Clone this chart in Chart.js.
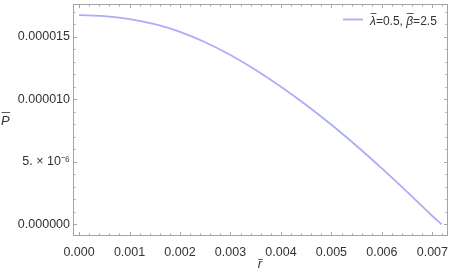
<!DOCTYPE html>
<html>
<head>
<meta charset="utf-8">
<script src="https://cdn.jsdelivr.net/npm/chart.js@4.4.1/dist/chart.umd.min.js"></script>
<style>
  html, body { margin: 0; padding: 0; background: #fff; }
  #wrap { width: 454px; height: 277px; }
</style>
</head>
<body>
<div id="wrap"><canvas id="chart" width="454" height="277"></canvas></div>
<script>
// r-bar values (x) and P-bar values (y)
const rBar = [0, 0.0005, 0.001, 0.0015, 0.002, 0.0025, 0.003, 0.0035, 0.004,
              0.0045, 0.005, 0.0055, 0.006, 0.0065, 0.007, 0.00718];
const pBar = [16.75e-6, 16.67e-6, 16.43e-6, 16.02e-6, 15.41e-6, 14.58e-6, 13.55e-6, 12.35e-6, 11.01e-6,
              9.55e-6, 7.97e-6, 6.27e-6, 4.47e-6, 2.59e-6, 0.66e-6, 0];

const xTicks = [0, 0.001, 0.002, 0.003, 0.004, 0.005, 0.006, 0.007];
const yTicks = [0, 5e-6, 10e-6, 15e-6];
const yTickLabels = ['0.000000', '5. \u00d7 10\u207b\u2076', '0.000010', '0.000015'];
const legendLabel = ['\u03bb', '=0.5, ', '\u03b2', '=2.5'];

const FONT = '"Liberation Sans", Arial, sans-serif';
const lineColor = 'rgb(172,172,250)';
const frameColor = '#a6a6a6';
const textColor = '#333';

// draws text with a bar over it, returns the width
function barText(ctx, txt, x, y, barY) {
    ctx.fillText(txt, x, y);
    const w = ctx.measureText(txt).width;
    ctx.beginPath();
    ctx.moveTo(x + 0.5, barY);
    ctx.lineTo(x + w + 0.5, barY);
    ctx.stroke();
    return w;
}

// keep the plot frame where the reference has it
function noPad(s) {
    s.paddingTop = 0; s.paddingBottom = 0;
    s.paddingLeft = 0; s.paddingRight = 0;
}

const framePlugin = {
    id: 'frame',
    afterDraw(chart) {
        const ctx = chart.ctx;
        const a = chart.chartArea;
        const xs = chart.scales.x, ys = chart.scales.y;
        ctx.save();
        ctx.strokeStyle = frameColor;
        ctx.lineWidth = 1;
        ctx.strokeRect(Math.round(a.left) + 0.5, Math.round(a.top) + 0.5,
                       Math.round(a.right - a.left) - 1, Math.round(a.bottom - a.top) - 1);

        // ticks pointing into the frame, on all four sides
        ctx.beginPath();
        for (let i = 0; i <= 36; i++) {
            const v = i * 0.0002;
            const px = Math.round(xs.getPixelForValue(v)) + 0.5;
            const len = (i % 5 === 0) ? 4 : 2.5;
            ctx.moveTo(px, a.bottom); ctx.lineTo(px, a.bottom - len);
            ctx.moveTo(px, a.top); ctx.lineTo(px, a.top + len);
        }
        for (let i = 0; i <= 17; i++) {
            const v = i * 1e-6;
            const py = Math.round(ys.getPixelForValue(v)) + 0.5;
            const len = (i % 5 === 0) ? 4 : 2.5;
            ctx.moveTo(a.left, py); ctx.lineTo(a.left + len, py);
            ctx.moveTo(a.right, py); ctx.lineTo(a.right - len, py);
        }
        ctx.stroke();

        // axis titles
        ctx.fillStyle = textColor;
        ctx.strokeStyle = textColor;
        ctx.lineWidth = 0.8;
        ctx.textBaseline = 'alphabetic';
        ctx.font = 'italic 13px ' + FONT;
        barText(ctx, 'P', 1, 125, 112.5);
        const rw = ctx.measureText('r').width;
        barText(ctx, 'r', 260 - rw / 2, 268, 259.5);

        // legend
        ctx.strokeStyle = lineColor;
        ctx.lineWidth = 1.8;
        ctx.beginPath();
        ctx.moveTo(343, 19.5); ctx.lineTo(363, 19.5);
        ctx.stroke();
        ctx.strokeStyle = textColor;
        ctx.lineWidth = 0.8;
        let x = 370;
        const base = 25;
        legendLabel.forEach((part, i) => {
            if (i % 2 === 0) {
                ctx.font = 'italic 12px ' + FONT;
                x += barText(ctx, part, x, base, 13.5);
            } else {
                ctx.font = '12px ' + FONT;
                ctx.fillText(part, x, base);
                x += ctx.measureText(part).width;
            }
        });
        ctx.restore();
    }
};

new Chart(document.getElementById('chart'), {
    type: 'line',
    data: {
        datasets: [{
            data: rBar.map((r, i) => ({ x: r, y: pBar[i] })),
            borderColor: lineColor,
            borderWidth: 1.8,
            pointRadius: 0,
            fill: false,
            tension: 0.35
        }]
    },
    options: {
        responsive: false,
        animation: false,
        devicePixelRatio: 1,
        layout: { padding: { top: 4, right: 6, left: 0, bottom: 0 } },
        plugins: { legend: { display: false }, tooltip: { enabled: false } },
        scales: {
            x: {
                type: 'linear',
                min: -0.00012,
                max: 0.00731,
                grid: { display: false, drawTicks: false },
                border: { display: false },
                afterBuildTicks: s => { s.ticks = xTicks.map(v => ({ value: v })); },
                afterFit: s => { s.height = 41; noPad(s); },
                ticks: {
                    autoSkip: false,
                    maxRotation: 0,
                    padding: 9,
                    color: textColor,
                    font: { family: FONT, size: 12.5 },
                    callback: v => v.toFixed(3)
                }
            },
            y: {
                min: -0.94e-6,
                max: 17.64e-6,
                grid: { display: false, drawTicks: false },
                border: { display: false },
                afterBuildTicks: s => { s.ticks = yTicks.map(v => ({ value: v })); },
                afterFit: s => { s.width = 73; noPad(s); },
                ticks: {
                    padding: 3,
                    color: textColor,
                    font: { family: FONT, size: 12.5 },
                    callback: (v, i) => yTickLabels[yTicks.indexOf(v)]
                }
            }
        }
    },
    plugins: [framePlugin]
});
</script>
</body>
</html>
